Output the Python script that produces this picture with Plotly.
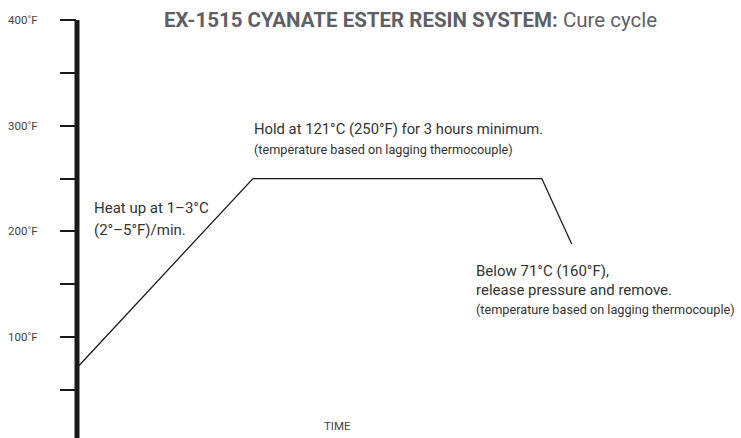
import plotly.graph_objects as go

# Data
time = [0, 26.5, 70, 74.5]           # arbitrary time units
temp_f = [71, 250, 250, 188]          # °F
tick_vals = [50, 100, 150, 200, 250, 300, 350, 400]
tick_text = ["", "100˚F", "", "200˚F", "", "300˚F", "", "400˚F"]

FONT = "Roboto, Liberation Sans, sans-serif"
W, H = 741, 438
L, R, T, B = 77, 0, 20, 0

def px(x):
    return (x - L) / (W - L - R)

def py(y):
    return (H - B - y) / (H - T - B)

fig = go.Figure()
fig.add_trace(go.Scatter(x=time, y=temp_f, mode="lines",
                         line=dict(color="#1a1a1a", width=1.3),
                         hoverinfo="skip", showlegend=False))

fig.add_shape(type="line", xref="paper", yref="paper", x0=0, x1=0, y0=0, y1=1,
              line=dict(color="#1a1a1a", width=5))

ann = []
def add(text, x, y, size, color="#333333", anchor="left"):
    ann.append(dict(text=text, xref="paper", yref="paper", x=px(x), y=py(y),
                    xanchor=anchor, yanchor="middle", showarrow=False, borderpad=0,
                    font=dict(family=FONT, size=size, color=color), align="left"))

add("<b>EX-1515 CYANATE ESTER RESIN SYSTEM:</b> Cure cycle", 163, 20, 20.5, "#5d6166")
add("Hold at 121°C (250°F) for 3 hours minimum.", 253, 129, 14.8)
add("(temperature based on lagging thermocouple)", 253, 150, 12.7)
add("Heat up at 1–3°C", 93, 208, 15)
add("(2°–5°F)/min.", 93, 230, 15)
add("Below 71°C (160°F),", 475, 271, 15)
add("release pressure and remove.", 475, 290, 15)
add("(temperature based on lagging thermocouple)", 475, 309, 12.7)
add("TIME", 337, 426, 11.5, "#444444", "center")

fig.update_layout(
    width=W, height=H,
    margin=dict(l=L, r=R, t=T, b=B, pad=0),
    paper_bgcolor="white", plot_bgcolor="white",
    annotations=ann,
    xaxis=dict(range=[0, 100], visible=False, fixedrange=True),
    yaxis=dict(range=[4.5, 400], tickvals=tick_vals, ticktext=tick_text,
               ticks="outside", ticklen=16, tickwidth=1.5, tickcolor="#1a1a1a",
               ticklabelstandoff=20, showgrid=False, zeroline=False, showline=False,
               tickfont=dict(family=FONT, size=11.5, color="#444444"), fixedrange=True),
)

fig.write_html("out.html", config={"displayModeBar": False},
               post_script="document.body.style.margin='0';")
